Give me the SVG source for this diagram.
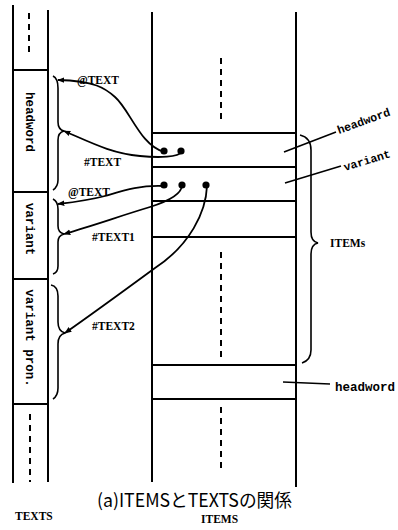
<svg xmlns="http://www.w3.org/2000/svg" width="398" height="530" viewBox="0 0 398 530">
<defs>
<marker id="ah" viewBox="0 0 10 10" refX="9" refY="5" markerWidth="7" markerHeight="7" markerUnits="userSpaceOnUse" orient="auto">
<path d="M0,1 L10,5 L0,9 Z" fill="#000"/>
</marker>
</defs>
<style>
.ln{stroke:#000;stroke-width:2;fill:none}
.th{stroke:#000;stroke-width:1.6;fill:none}
.ds{stroke:#000;stroke-width:2;fill:none;stroke-dasharray:6 5}
.cv{stroke:#000;stroke-width:1.8;fill:none}
.mono{font-family:"Liberation Mono","DejaVu Sans Mono",monospace;font-weight:bold;font-size:12.5px;fill:#000}
.rot{font-size:11.5px}
.ser{font-family:"Liberation Serif","DejaVu Serif",serif;font-weight:bold;font-size:11.5px;fill:#000}
.cap{font-family:"Noto Sans CJK JP","Noto Sans",sans-serif;font-size:18px;fill:#000}
</style>
<rect width="398" height="530" fill="#fff"/>

<g id="texts-column">
<line class="ln" x1="13" y1="5" x2="13" y2="483"/>
<line class="ln" x1="48" y1="10" x2="48" y2="482"/>
<line class="ln" x1="13" y1="70" x2="48" y2="70"/>
<line class="ln" x1="13" y1="192" x2="48" y2="192"/>
<line class="ln" x1="13" y1="279" x2="48" y2="279"/>
<line class="ln" x1="13" y1="404" x2="48" y2="404"/>
<line class="ds" x1="29" y1="13" x2="29" y2="57"/>
<line class="ds" x1="30" y1="414" x2="30" y2="482"/>
</g>
<g id="t-headword"><text class="mono" transform="translate(26,122) rotate(90)" text-anchor="middle">headword</text></g>
<g id="t-variant"><text class="mono" transform="translate(26,229) rotate(90)" text-anchor="middle">variant</text></g>
<g id="t-variant-pron"><text class="mono" transform="translate(26,338) rotate(90)" text-anchor="middle">variant pron.</text></g>

<g id="items-column">
<line class="ln" x1="152" y1="12" x2="152" y2="482"/>
<line class="ln" x1="296" y1="12" x2="296" y2="487"/>
<line class="ln" x1="152" y1="133" x2="296" y2="133"/>
<line class="ln" x1="152" y1="167" x2="296" y2="167"/>
<line class="ln" x1="152" y1="201" x2="296" y2="201"/>
<line class="ln" x1="152" y1="237" x2="296" y2="237"/>
<line class="ln" x1="152" y1="365" x2="296" y2="365"/>
<line class="ln" x1="152" y1="399" x2="296" y2="399"/>
<line class="ds" x1="221" y1="58" x2="221" y2="124"/>
<line class="ds" x1="221" y1="252" x2="221" y2="360"/>
<line class="ds" x1="221" y1="407" x2="221" y2="472"/>
</g>

<g id="braces">
<path class="th" d="M53,76 C57,78 58,82 58,88 L58,122 C58,127 60,130 64,131 C60,132 58,135 58,140 L58,180 C58,185 56,188 53,190"/>
<path class="th" d="M53,199 C57,201 58,204 58,209 L58,226 C58,230 60,233 64,234 C60,235 58,238 58,242 L58,266 C58,270 56,273 53,274"/>
<path class="th" d="M51,285 C56,286 58,290 58,296 L58,322 C58,328 61,332 65,333 C61,334 58,338 58,344 L58,388 C58,394 56,397 53,399"/>
<path class="th" d="M300,135 C308,137 311,142 311,150 L311,232 C311,238 313,242 318,243 C313,244 311,248 311,254 L311,350 C311,357 308,361 302,363"/>
</g>

<g id="connectors">
<path class="cv" marker-end="url(#ah)" d="M164,152 C140,145 130,110 115,97 C105,88 95,81 58,80"/>
<path class="cv" marker-end="url(#ah)" d="M182,152 C178,157 160,158 140,156 C110,153 90,142 64,131"/>
<path class="cv" marker-end="url(#ah)" d="M164,186 C140,185 125,190 105,196 C90,200 75,202 58,204"/>
<path class="cv" marker-end="url(#ah)" d="M182,185 C182,192 172,200 150,207 C120,216 95,225 64,234"/>
<path class="cv" marker-end="url(#ah)" d="M207,186 C206,212 190,245 155,268 C125,290 95,312 65,333"/>
<line class="th" x1="284" y1="152" x2="336" y2="132"/>
<line class="th" x1="285" y1="183" x2="341" y2="166"/>
<line class="th" x1="283" y1="382" x2="330" y2="384"/>
</g>

<g id="dots">
<circle cx="164" cy="151" r="3.6"/>
<circle cx="181" cy="151" r="3.6"/>
<circle cx="164" cy="185" r="3.6"/>
<circle cx="182" cy="185" r="3.6"/>
<circle cx="206" cy="185" r="3.6"/>
</g>

<g id="labels">
<text class="ser" x="77" y="84">@TEXT</text>
<text class="ser" x="84" y="166">#TEXT</text>
<text class="ser" x="68" y="196">@TEXT</text>
<text class="ser" x="92" y="241">#TEXT1</text>
<text class="ser" x="92" y="330">#TEXT2</text>
<text class="ser" x="330" y="247">ITEMs</text>
<text class="mono rot" transform="translate(339,134) rotate(-20)">headword</text>
<text class="mono rot" transform="translate(345,171) rotate(-17)">variant</text>
<text class="mono" x="335" y="391">headword</text>
<text class="cap" x="97" y="507" textLength="195" lengthAdjust="spacingAndGlyphs">(a)ITEMSとTEXTSの関係</text>
<text class="ser" x="15" y="520">TEXTS</text>
<text class="ser" x="201" y="523">ITEMS</text>
</g>
</svg>
